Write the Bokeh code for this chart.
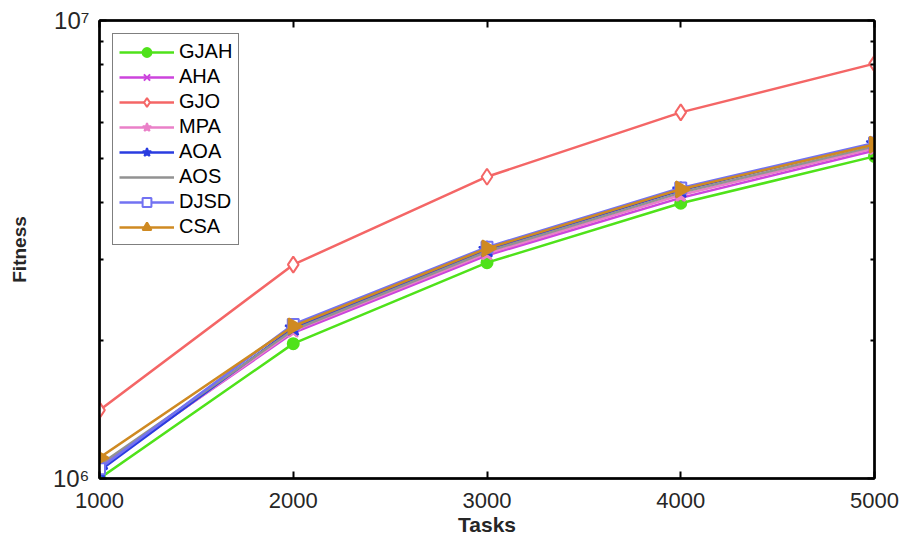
import math
from bokeh.plotting import figure
from bokeh.models import (Range1d, FixedTicker, LogAxis, LinearAxis, Legend, LegendItem,
                          CustomJSTickFormatter, ColumnDataSource)
from bokeh.embed import file_html
from bokeh.resources import INLINE

# Fitness of each scheduler versus number of tasks
tasks = [1000, 2000, 3000, 4000, 5000]
gjah = [1.00e6, 1.97e6, 2.96e6, 3.99e6, 5.05e6]
aha = [1.06e6, 2.08e6, 3.07e6, 4.10e6, 5.20e6]
gjo = [1.41e6, 2.93e6, 4.56e6, 6.30e6, 8.05e6]
mpa = [1.05e6, 2.10e6, 3.10e6, 4.16e6, 5.26e6]
aoa = [1.04e6, 2.13e6, 3.16e6, 4.26e6, 5.38e6]
aos = [1.07e6, 2.11e6, 3.13e6, 4.21e6, 5.31e6]
djsd = [1.05e6, 2.17e6, 3.20e6, 4.31e6, 5.40e6]
csa = [1.11e6, 2.15e6, 3.18e6, 4.28e6, 5.36e6]

x_ticks = [1000, 2000, 3000, 4000, 5000]
y_major = [1e6, 1e7]
y_minor = [k * 1e6 for k in range(2, 10)]

FONT = "Liberation Sans"

p = figure(width=907, height=540, y_axis_type="log",
           x_range=Range1d(1000, 5000), y_range=Range1d(1e6, 1e7),
           output_backend="svg", toolbar_location=None,
           min_border_left=99, min_border_right=33, min_border_top=20, min_border_bottom=62)
p.xgrid.visible = False
p.ygrid.visible = False
p.outline_line_color = "black"
p.outline_line_width = 2
p.background_fill_color = "white"
p.border_fill_color = "white"

sup_code = """
const sup = {"0":"\u2070","1":"\u00b9","2":"\u00b2","3":"\u00b3","4":"\u2074",
             "5":"\u2075","6":"\u2076","7":"\u2077","8":"\u2078","9":"\u2079"};
const e = Math.round(Math.log10(tick));
return "10" + String(e).split("").map(c => sup[c]).join("");
"""
blank = CustomJSTickFormatter(code="return '';")

def style_axis(ax):
    ax.axis_line_color = "black"
    ax.axis_line_width = 2.5
    ax.major_tick_in = 7
    ax.major_tick_out = 0
    ax.minor_tick_in = 4
    ax.minor_tick_out = 0
    ax.major_tick_line_color = "black"
    ax.major_tick_line_width = 2
    ax.minor_tick_line_color = "black"
    ax.minor_tick_line_width = 2
    ax.major_label_text_font = FONT
    ax.major_label_text_font_size = "22px"
    ax.major_label_text_color = "#262626"
    ax.axis_label_text_font = FONT
    ax.axis_label_text_font_style = "bold"
    ax.axis_label_text_color = "#262626"

xt = FixedTicker(ticks=x_ticks, minor_ticks=[])
yt = FixedTicker(ticks=y_major, minor_ticks=y_minor)

xa = p.xaxis[0]
xa.ticker = xt
style_axis(xa)
xa.axis_label = "Tasks"
xa.axis_label_text_font_size = "21px"
xa.major_label_standoff = 14
xa.axis_label_standoff = 2

ya = p.yaxis[0]
ya.ticker = yt
ya.formatter = CustomJSTickFormatter(code=sup_code)
style_axis(ya)
ya.major_label_text_font_size = "24px"
ya.axis_label = "Fitness"
ya.axis_label_text_font_size = "19px"
ya.major_label_standoff = 10
ya.axis_label_standoff = 20

top = LinearAxis(ticker=xt, formatter=blank)
style_axis(top)
top.major_label_text_font_size = "0px"
p.add_layout(top, "above")

right = LogAxis(ticker=yt, formatter=blank)
style_axis(right)
right.major_label_text_font_size = "0px"
p.add_layout(right, "right")

series = [
    ("GJAH", gjah, "#4fe21a", "circle", 11, True),
    ("AHA", aha, "#cc44dd", "x", 9, True),
    ("GJO", gjo, "#f46666", "diamond", 16, False),
    ("MPA", mpa, "#ea80c8", "star", 15, True),
    ("AOA", aoa, "#2a3ce0", "star", 17, True),
    ("AOS", aos, "#929292", "circle_dash", 12, False),
    ("DJSD", djsd, "#7272f2", "square", 11, False),
    ("CSA", csa, "#cf8a22", "triangle", 16, True),
]

items = []
for name, ys, color, marker, size, filled in series:
    src = ColumnDataSource(dict(x=tasks, y=ys))
    ln = p.line("x", "y", source=src, line_color=color, line_width=2.5)
    kw = dict(marker=marker, size=size, line_color=color, line_width=2,
              fill_color=color if filled else "white")
    if marker == "triangle":
        # right-pointing triangles: the upward triangle turned a quarter clockwise
        kw["angle"] = -90
        kw["angle_units"] = "deg"
    sc = p.scatter("x", "y", source=src, **kw)
    items.append(LegendItem(label=name, renderers=[ln, sc]))

legend = Legend(items=items, location="top_left")
legend.margin = 13
legend.padding = 6
legend.spacing = 2
legend.glyph_width = 55
legend.glyph_height = 22
legend.label_height = 22
legend.label_standoff = 5
legend.label_text_font = FONT
legend.label_text_font_size = "20px"
legend.label_text_color = "black"
legend.border_line_color = "black"
legend.border_line_width = 1.5
legend.background_fill_color = "white"
legend.background_fill_alpha = 1
p.add_layout(legend)

open("out.html", "w").write(file_html(p, INLINE))
